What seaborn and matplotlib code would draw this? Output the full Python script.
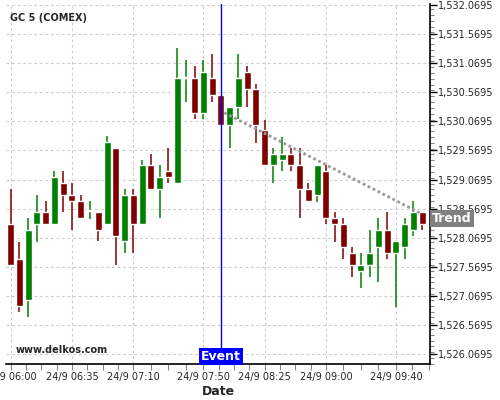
import numpy as np
import pandas as pd
import matplotlib
matplotlib.use("Agg")
import matplotlib.pyplot as plt
import seaborn as sns
from matplotlib.ticker import FuncFormatter, FixedLocator, MultipleLocator

# --- данные: 5-минутные свечи GC 5 (COMEX), 24/9 06:00 ... 09:55
times = pd.date_range("2000-09-24 06:00", periods=48, freq="5min")
opens = [1528.304, 1527.702, 1526.997, 1528.304, 1528.510, 1528.304, 1529.009, 1528.802,
         1528.699, 1528.520, 1528.510, 1528.309, 1529.611, 1528.017, 1528.802, 1528.309,
         1529.318, 1528.911, 1529.215, 1529.014, 1530.817, 1530.814, 1530.218, 1530.814,
         1530.522, 1530.006, 1530.316, 1530.917, 1530.625, 1529.920, 1529.318, 1529.404,
         1529.507, 1529.318, 1528.906, 1528.808, 1529.215, 1528.412, 1528.304, 1527.805,
         1527.501, 1527.599, 1527.913, 1528.201, 1527.810, 1527.913, 1528.201, 1528.510]
highs = [1528.900, 1527.999, 1528.402, 1528.797, 1528.699, 1529.215, 1529.215, 1529.009,
         1528.797, 1528.699, 1528.510, 1529.812, 1529.611, 1528.900, 1528.900, 1529.404,
         1529.502, 1529.313, 1529.605, 1531.325, 1531.119, 1531.016, 1531.119, 1531.222,
         1530.522, 1530.316, 1531.222, 1531.016, 1530.711, 1530.097, 1529.605, 1529.805,
         1529.605, 1529.605, 1529.004, 1529.318, 1529.318, 1528.505, 1528.402, 1527.903,
         1527.800, 1528.201, 1528.402, 1528.505, 1528.011, 1528.402, 1528.694, 1528.510]
lows = [1527.582, 1526.786, 1526.699, 1527.999, 1528.304, 1528.286, 1528.505, 1528.195,
        1528.395, 1528.395, 1528.006, 1528.309, 1527.594, 1527.800, 1527.800, 1528.309,
        1528.893, 1528.402, 1529.004, 1528.997, 1530.407, 1530.104, 1530.104, 1530.407,
        1530.006, 1529.605, 1530.104, 1530.310, 1529.702, 1529.318, 1529.004, 1529.215,
        1529.215, 1528.402, 1528.687, 1528.687, 1528.299, 1527.999, 1527.699, 1527.387,
        1527.198, 1527.387, 1527.301, 1527.697, 1526.882, 1527.697, 1528.097, 1528.201]
closes = [1527.599, 1526.899, 1528.201, 1528.510, 1528.304, 1529.112, 1528.808, 1528.704,
          1528.407, 1528.540, 1528.206, 1529.714, 1528.103, 1528.802, 1528.309, 1529.318,
          1528.911, 1529.112, 1529.117, 1530.814, 1530.826, 1530.218, 1530.917, 1530.527,
          1530.006, 1530.316, 1530.814, 1530.625, 1530.006, 1529.318, 1529.507, 1529.507,
          1529.318, 1528.911, 1528.704, 1529.318, 1528.412, 1528.304, 1527.913, 1527.604,
          1527.599, 1527.805, 1528.201, 1527.810, 1528.011, 1528.304, 1528.510, 1528.304]

label_idx = [0, 7, 14, 22, 29, 36, 44]
event_idx = 24
trend_x = [24.4, 47.0]
trend_y = [1530.218, 1528.476]
y_ticks = [1526.0695 + 0.5 * k for k in range(13)]

df = pd.DataFrame({"t": times, "open": opens, "high": highs, "low": lows, "close": closes})
df["x"] = np.arange(len(df))
df["up"] = df["close"] >= df["open"]

sns.set_style("white")
plt.rcParams['font.family'] = ['DejaVu Sans']

fig = plt.figure(figsize=(5, 4), dpi=100)
ax = fig.add_axes([0.012, 0.09, 0.848, 0.9])

# сетка
for v in y_ticks:
    ax.axhline(v, color="#cccccc", lw=0.8, ls=(0, (2.5, 2.5)), zorder=0)
for i in label_idx:
    ax.axvline(i, color="#cccccc", lw=0.8, ls=(0, (2.5, 2.5)), zorder=0)

# свечи
colors = np.where(df["up"], "#008000", "#800000")
ax.vlines(df["x"], df["low"], df["high"], colors=colors, lw=1.1, zorder=2)
bottoms = np.minimum(df["open"], df["close"])
heights = np.maximum(np.abs(df["close"] - df["open"]), 0.012)
ax.bar(df["x"], heights, bottom=bottoms, width=0.8, color=colors, zorder=3)

# линия тренда
sns.lineplot(x=trend_x, y=trend_y, ax=ax, color="#999999", lw=2,
             linestyle=(0, (1, 1)), zorder=4)

# событие
ax.axvline(event_idx, color="#0000ff", lw=1, zorder=5)
ax.text(event_idx, 1526.03, "Event", color="white", fontsize=9, fontweight="bold",
        ha="center", va="center", zorder=6,
        bbox=dict(facecolor="#0000ff", edgecolor="none", pad=1.5))

ax.set_xlim(-0.54, 47.9)
ax.set_ylim(1525.898, 1532.087)

# оси
ax.yaxis.tick_right()
ax.yaxis.set_major_locator(FixedLocator(y_ticks))
ax.yaxis.set_minor_locator(MultipleLocator(0.1))
ax.yaxis.set_major_formatter(FuncFormatter(lambda v, p: f"{v:,.4f}"))
ax.tick_params(axis="y", which="major", length=5, width=1, labelsize=7, pad=1, color="black")
ax.tick_params(axis="y", which="minor", length=3, width=0.8, color="#888888")

minor_x = []
for a, b in zip(label_idx[:-1], label_idx[1:]):
    minor_x += list(np.linspace(a, b, 5)[1:-1])
minor_x += [45.9, 47.75]
ax.xaxis.set_major_locator(FixedLocator(label_idx))
ax.xaxis.set_minor_locator(FixedLocator(minor_x))
ax.set_xticklabels([df["t"][i].strftime("24/9 %H:%M") for i in label_idx])
ax.tick_params(axis="x", which="both", length=4, width=0.8, labelsize=7, pad=2,
               color="#888888", bottom=True)

for s in ["left", "top"]:
    ax.spines[s].set_visible(False)
for s in ["right", "bottom"]:
    ax.spines[s].set_color("black")
    ax.spines[s].set_linewidth(1.2)

ax.set_xlabel("Date", fontsize=9, fontweight="bold", labelpad=2)

ax.text(0.01, 0.975, "GC 5 (COMEX)", transform=ax.transAxes, fontsize=7,
        fontweight="bold", ha="left", va="top")
ax.text(0.022, 0.025, "www.delkos.com", transform=ax.transAxes, fontsize=7,
        fontweight="bold", ha="left", va="bottom")
ax.text(1.005, 1528.40, "Trend", transform=ax.get_yaxis_transform(), color="white",
        fontsize=9, fontweight="bold", ha="left", va="center", zorder=6,
        bbox=dict(facecolor="#808080", edgecolor="none", pad=1.5), clip_on=False)

fig.savefig("out.png", dpi=100)
